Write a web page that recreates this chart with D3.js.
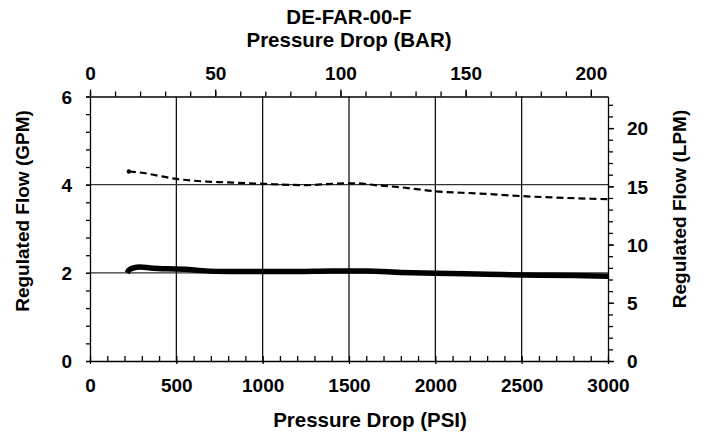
<!DOCTYPE html>
<html>
<head>
<meta charset="utf-8">
<script src="https://cdn.jsdelivr.net/npm/d3@7"></script>
<style>
  body { margin: 0; background: #fff; }
  svg text { font-family: "Liberation Sans", Arial, sans-serif; font-weight: bold; fill: #000; }
</style>
</head>
<body>
<div id="chart"></div>
<script>
// values
const psiTicks = [0, 500, 1000, 1500, 2000, 2500, 3000];
const barTicks = [0, 50, 100, 150, 200];
const gpmTicks = [0, 2, 4, 6];
const lpmTicks = [0, 5, 10, 15, 20];

// regulated flow, GPM vs pressure drop, PSI
const setA = [
  [215, 2.0], [225, 2.06], [250, 2.11], [290, 2.13], [350, 2.11], [450, 2.09],
  [550, 2.08], [650, 2.05], [800, 2.03], [1000, 2.03], [1200, 2.03], [1400, 2.04],
  [1600, 2.04], [1800, 2.01], [2000, 1.99], [2300, 1.97], [2500, 1.95], [2800, 1.94], [3000, 1.92],
];
const setB = [
  [225, 4.30], [300, 4.27], [400, 4.20], [500, 4.13], [600, 4.09], [800, 4.05],
  [1000, 4.02], [1250, 3.99], [1400, 4.02], [1550, 4.03], [1650, 3.99], [1800, 3.94],
  [2000, 3.85], [2250, 3.80], [2500, 3.74], [2750, 3.70], [3000, 3.67],
];

const PSI_PER_BAR = 14.5038;
const LPM_PER_GPM = 3.78541;

const W = 707, H = 434;
const pL = 90, pR = 608, pT = 96.5, pB = 361;

const svg = d3.select('#chart').append('svg')
  .attr('width', W)
  .attr('height', H);

const x = d3.scaleLinear().domain([0, 3000]).range([pL, pR]);
const xBar = d3.scaleLinear().domain([0, 3000 / PSI_PER_BAR]).range([pL, pR]);
const y = d3.scaleLinear().domain([0, 6]).range([pB, pT]);
const yL = d3.scaleLinear().domain([0, 6 * LPM_PER_GPM]).range([pB, pT]);

// grid
svg.append('g').selectAll('line')
  .data(psiTicks.slice(1, -1))
  .enter().append('line')
  .attr('x1', (d) => x(d)).attr('x2', (d) => x(d))
  .attr('y1', pT).attr('y2', pB)
  .attr('stroke', '#000').attr('stroke-width', 1.2);
svg.append('g').selectAll('line')
  .data(gpmTicks.slice(1, -1))
  .enter().append('line')
  .attr('x1', pL).attr('x2', pR)
  .attr('y1', (d) => y(d)).attr('y2', (d) => y(d))
  .attr('stroke', '#333').attr('stroke-width', 1.2);

const styleAxis = (g) => {
  g.selectAll('path, line').attr('stroke', '#000').attr('stroke-width', 1.3);
  g.selectAll('text').style('font-size', '19px');
};

// bottom
svg.append('g').attr('transform', `translate(0,${pB})`)
  .call(d3.axisBottom(x).tickValues(d3.range(0, 3001, 100)).tickSize(-5).tickSizeOuter(0).tickFormat(''))
  .call(styleAxis);
svg.append('g').attr('transform', `translate(0,${pB})`)
  .call(d3.axisBottom(x).tickValues(psiTicks).tickSize(3).tickSizeOuter(0).tickFormat(d3.format('d')))
  .call((g) => g.select('.domain').remove())
  .call(styleAxis)
  .call((g) => g.selectAll('text').attr('y', 31).attr('dy', 0));

// top (BAR)
svg.append('g').attr('transform', `translate(0,${pT})`)
  .call(d3.axisTop(xBar).tickValues(d3.range(0, 201, 10)).tickSize(5).tickSizeOuter(0).tickFormat(''))
  .call(styleAxis);
svg.append('g').attr('transform', `translate(0,${pT})`)
  .call(d3.axisTop(xBar).tickValues(barTicks).tickSize(7).tickSizeOuter(0).tickFormat(d3.format('d')))
  .call((g) => g.select('.domain').remove())
  .call(styleAxis)
  .call((g) => g.selectAll('text').attr('y', -16.5).attr('dy', 0));

// left (GPM)
svg.append('g').attr('transform', `translate(${pL},0)`)
  .call(d3.axisLeft(y).tickValues(d3.range(0, 6.01, 0.4)).tickSize(4).tickSizeOuter(0).tickFormat(''))
  .call(styleAxis);
svg.append('g').attr('transform', `translate(${pL},0)`)
  .call(d3.axisLeft(y).tickValues(gpmTicks).tickSize(4).tickPadding(14).tickSizeOuter(0).tickFormat(d3.format('d')))
  .call((g) => g.select('.domain').remove())
  .call(styleAxis)
  .call((g) => g.selectAll('text').attr('dy', '0.36em'));

// right (LPM)
svg.append('g').attr('transform', `translate(${pR},0)`)
  .call(d3.axisRight(yL).tickValues(d3.range(0, 22.5, 1)).tickSize(5).tickSizeOuter(0).tickFormat(''))
  .call(styleAxis);
svg.append('g').attr('transform', `translate(${pR},0)`)
  .call(d3.axisRight(yL).tickValues(lpmTicks).tickSize(6).tickPadding(13).tickSizeOuter(0).tickFormat(d3.format('d')))
  .call((g) => g.select('.domain').remove())
  .call(styleAxis)
  .call((g) => g.selectAll('text').attr('dy', '0.36em'));

// series
const line = d3.line()
  .x((d) => x(d[0]))
  .y((d) => y(d[1]))
  .curve(d3.curveMonotoneX);

svg.append('path')
  .datum(setA)
  .attr('d', line)
  .attr('fill', 'none')
  .attr('stroke', '#000')
  .attr('stroke-width', 5.5)
  .attr('stroke-linecap', 'butt');

svg.append('path')
  .datum(setB)
  .attr('d', line)
  .attr('fill', 'none')
  .attr('stroke', '#000')
  .attr('stroke-width', 2.2)
  .attr('stroke-dasharray', '7,4');

svg.append('circle')
  .attr('cx', x(setB[0][0]))
  .attr('cy', y(setB[0][1]))
  .attr('r', 2.2)
  .attr('fill', '#000');

// titles
svg.append('text').attr('x', 349).attr('y', 23.5).attr('text-anchor', 'middle')
  .style('font-size', '20.5px').text('DE-FAR-00-F');
svg.append('text').attr('x', 349).attr('y', 46.5).attr('text-anchor', 'middle')
  .style('font-size', '20.5px').text('Pressure Drop (BAR)');
svg.append('text').attr('x', 370).attr('y', 426.5).attr('text-anchor', 'middle')
  .style('font-size', '20.5px').text('Pressure Drop (PSI)');
svg.append('text')
  .attr('transform', 'translate(29,211) rotate(-90)')
  .attr('text-anchor', 'middle')
  .style('font-size', '19px').text('Regulated Flow (GPM)');
svg.append('text')
  .attr('transform', 'translate(686,209) rotate(-90)')
  .attr('text-anchor', 'middle')
  .style('font-size', '19px').text('Regulated Flow (LPM)');
</script>
</body>
</html>
